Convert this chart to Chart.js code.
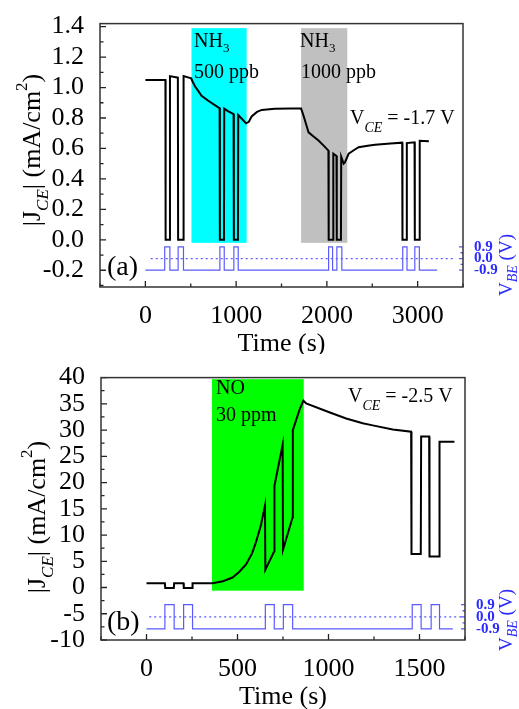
<!DOCTYPE html>
<html lang="en">
<head>
<meta charset="UTF-8" />
<title>J_CE vs time</title>
<script src="https://cdn.jsdelivr.net/npm/chart.js"></script>
<style>
  body { margin: 0; background: #fff; }
  canvas { display: block; }
</style>
</head>
<body>
<canvas id="chartA" width="519" height="354"></canvas>
<canvas id="chartB" width="519" height="355"></canvas>
<script>
// ---- panel (a): NH3, V_CE = -1.7 V ----
const timeA = [0, 221, 223, 268, 271, 358, 361, 418, 421, 505, 520, 545, 582, 619, 693, 803, 818, 821, 866, 869,
  910, 972, 975, 1020, 1023, 1070, 1110, 1140, 1171, 1230, 1282, 1425, 1600, 1716, 1743, 1798, 1860, 1908, 1970, 2017,
  2020, 2068, 2071, 2106, 2109, 2155, 2158, 2185, 2200, 2240, 2300, 2350, 2450, 2530, 2700, 2830, 2833, 2878, 2881, 2966,
  2969, 3020, 3023, 3124];
const jA = [1.05, 1.05, 0, 0, 1.075, 1.065, 0, 0, 1.075, 1.06, 1.04, 1.01, 0.978, 0.946, 0.913, 0.87, 0.865, 0, 0, 0.862,
  0.845, 0.825, 0, 0, 0.82, 0.79, 0.765, 0.775, 0.81, 0.84, 0.853, 0.86, 0.862, 0.862, 0.815, 0.706, 0.675, 0.652, 0.615, 0.586,
  0, 0, 0.565, 0.55, 0, 0, 0.545, 0.50, 0.51, 0.565, 0.59, 0.608, 0.618, 0.625, 0.632, 0.638, 0, 0, 0.635, 0.64,
  0, 0, 0.65, 0.648];
const vbeTimeA = [0, 213, 213, 270, 270, 361, 361, 420, 420, 821, 821, 869, 869, 975, 975, 1023, 1023,
  2019, 2019, 2063, 2063, 2110, 2110, 2165, 2165, 2836, 2836, 2883, 2883, 2969, 2969, 3019, 3019, 3215];
const vbeA = [-0.9, -0.9, 0.9, 0.9, -0.9, -0.9, 0.9, 0.9, -0.9, -0.9, 0.9, 0.9, -0.9, -0.9, 0.9, 0.9, -0.9,
  -0.9, 0.9, 0.9, -0.9, -0.9, 0.9, 0.9, -0.9, -0.9, 0.9, 0.9, -0.9, -0.9, 0.9, 0.9, -0.9, -0.9];
const zeroLineA = [59, 3400];
const bandStartA = [508, 1716];
const bandEndA = [1116, 2225];
const bandLowA = -0.02, bandHighA = 1.39;
const xMajorA = [0, 1000, 2000, 3000];
const xMinorA = [-500, 500, 1500, 2500, 3500];
const yMajorA = [-0.2, 0, 0.2, 0.4, 0.6, 0.8, 1.0, 1.2, 1.4];
const yMinorA = [-0.3, -0.1, 0.1, 0.3, 0.5, 0.7, 0.9, 1.1, 1.3];

// ---- panel (b): NO, V_CE = -2.5 V ----
const timeB = [0, 101, 103, 150, 152, 203, 205, 251, 253, 363, 420, 473, 510, 547, 580, 602, 629, 651, 653, 702,
  703, 748, 750, 803, 804, 840, 862, 877, 1004, 1097, 1188, 1243, 1353, 1454, 1456, 1507, 1509, 1553, 1555, 1608,
  1610, 1692];
const jB = [0.8, 0.8, -0.1, -0.1, 0.8, 0.8, -0.1, -0.1, 0.8, 0.8, 1.2, 1.9, 3.0, 4.4, 6.5, 8.7, 11.9, 15.6, 3.4, 6.9,
  19.4, 27.2, 7.2, 13.4, 30.0, 33.8, 35.6, 35.1, 33.4, 32.2, 31.3, 30.9, 30.1, 29.7, 6.4, 6.4, 28.8, 28.8, 5.9, 5.9,
  27.8, 27.8];
const vbeTimeB = [0, 101, 101, 152, 152, 204, 204, 253, 253, 653, 653, 702, 702, 752, 752, 803, 803,
  1460, 1460, 1509, 1509, 1564, 1564, 1610, 1610, 1683];
const vbeB = [-0.9, -0.9, 0.9, 0.9, -0.9, -0.9, 0.9, 0.9, -0.9, -0.9, 0.9, 0.9, -0.9, -0.9, 0.9, 0.9, -0.9,
  -0.9, 0.9, 0.9, -0.9, -0.9, 0.9, 0.9, -0.9, -0.9];
const zeroLineB = [15, 1735];
const bandStartB = [360];
const bandEndB = [864];
const bandLowB = -0.6, bandHighB = 39.7;
const xMajorB = [0, 500, 1000, 1500];
const xMinorB = [-250, 250, 750, 1250, 1750];
const yMajorB = [-10, -5, 0, 5, 10, 15, 20, 25, 30, 35, 40];
const yMinorB = [-7.5, -2.5, 2.5, 7.5, 12.5, 17.5, 22.5, 27.5, 32.5, 37.5];

const vbeTicks = [-0.9, 0, 0.9];
const vbeMinor = [-0.45, 0.45];

const SERIF = '"Liberation Serif", "Times New Roman", serif';
const BLUE = '#5a5aff';
const BLUE_TEXT = '#2b2bff';

function pts(xs, ys) {
  return xs.map((x, i) => ({ x: x, y: ys[i] }));
}

// draw a run of text pieces (for sub/superscripts)
function drawParts(ctx, parts, x, y, align) {
  let total = 0;
  parts.forEach((p) => {
    ctx.font = p.font;
    p.w = ctx.measureText(p.text).width;
    total += p.w;
  });
  let cx = align === "center" ? x - total / 2 : x;
  parts.forEach((p) => {
    ctx.font = p.font;
    ctx.fillText(p.text, cx, y + (p.dy || 0));
    cx += p.w;
  });
}

function f(size, style) {
  return (style ? style + " " : "") + size + "px " + SERIF;
}

function makePanel(id, p) {
  const decor = {
    id: "decor" + id,
    beforeDatasetsDraw(chart) {
      const ctx = chart.ctx, x = chart.scales.x, y = chart.scales.y;
      ctx.save();
      p.bandStart.forEach((s, i) => {
        const x0 = x.getPixelForValue(s), x1 = x.getPixelForValue(p.bandEnd[i]);
        const y0 = y.getPixelForValue(p.bandHigh), y1 = y.getPixelForValue(p.bandLow);
        ctx.fillStyle = p.bandColors[i];
        ctx.fillRect(x0, y0, x1 - x0, y1 - y0);
      });
      ctx.restore();
    },
    afterDraw(chart) {
      const ctx = chart.ctx;
      const { left, right, top, bottom } = chart.chartArea;
      const x = chart.scales.x, y = chart.scales.y, y2 = chart.scales.y2;
      ctx.save();
      // inward tick marks
      ctx.strokeStyle = "#222";
      ctx.lineWidth = 1.3;
      ctx.beginPath();
      p.xMajor.forEach((v) => { const px = x.getPixelForValue(v); ctx.moveTo(px, bottom); ctx.lineTo(px, bottom - 6); });
      p.xMinor.forEach((v) => { const px = x.getPixelForValue(v); ctx.moveTo(px, bottom); ctx.lineTo(px, bottom - 3.5); });
      p.yMajor.forEach((v) => { const py = y.getPixelForValue(v); ctx.moveTo(left, py); ctx.lineTo(left + 6, py); });
      p.yMinor.forEach((v) => { const py = y.getPixelForValue(v); ctx.moveTo(left, py); ctx.lineTo(left + 3.5, py); });
      ctx.stroke();
      ctx.strokeStyle = BLUE;
      ctx.beginPath();
      vbeTicks.forEach((v) => { const py = y2.getPixelForValue(v); ctx.moveTo(right, py); ctx.lineTo(right - 4, py); });
      vbeMinor.forEach((v) => { const py = y2.getPixelForValue(v); ctx.moveTo(right, py); ctx.lineTo(right - 2.5, py); });
      ctx.stroke();
      // frame
      ctx.strokeStyle = "#333";
      ctx.lineWidth = 1.5;
      ctx.strokeRect(left, top, right - left, bottom - top);

      ctx.fillStyle = "#000";
      ctx.textBaseline = "alphabetic";
      ctx.textAlign = "left";
      p.texts(ctx);

      // axis titles
      drawParts(ctx, [{ text: "Time (s)", font: f(26) }], (left + right) / 2 + 0, p.xTitleY, "center");

      ctx.save();
      ctx.translate(p.yTitleX, p.yTitleY);
      ctx.rotate(-Math.PI / 2);
      drawParts(ctx, [
        { text: "|J", font: f(26) },
        { text: "CE", font: f(17, "italic"), dy: 8 },
        { text: "| (mA/cm", font: f(26) },
        { text: "2", font: f(17), dy: -13 },
        { text: ")", font: f(26) },
      ], 0, 0, "center");
      ctx.restore();

      ctx.save();
      ctx.fillStyle = BLUE_TEXT;
      ctx.translate(p.y2TitleX, p.y2TitleY);
      ctx.rotate(-Math.PI / 2);
      drawParts(ctx, [
        { text: "V", font: f(19) },
        { text: "BE", font: f(14, "italic"), dy: 5 },
        { text: " (V)", font: f(19) },
      ], 0, 0, "center");
      ctx.restore();
      ctx.restore();
    },
  };

  return new Chart(document.getElementById(id), {
    type: "line",
    data: {
      datasets: [
        { data: pts(p.time, p.j), yAxisID: "y", borderColor: "#000", borderWidth: 2, pointRadius: 0, tension: 0 },
        { data: pts(p.vbeTime, p.vbe), yAxisID: "y2", borderColor: BLUE, borderWidth: 1.2, pointRadius: 0, tension: 0 },
        { data: pts(p.zeroLine, [0, 0]), yAxisID: "y2", borderColor: BLUE, borderWidth: 1.2, borderDash: [2, 3], pointRadius: 0 },
      ],
    },
    options: {
      responsive: false,
      animation: false,
      devicePixelRatio: 1,
      layout: { padding: { top: p.padTop, left: 0, right: 0, bottom: 0 } },
      plugins: { legend: { display: false }, tooltip: { enabled: false } },
      scales: {
        x: {
          type: "linear", min: p.xMin, max: p.xMax,
          grid: { display: false }, border: { display: false },
          afterBuildTicks: (s) => { s.ticks = p.xMajor.map((v) => ({ value: v })); },
          afterFit: (s) => { s.height = p.xHeight; },
          ticks: { font: { family: SERIF, size: 26 }, color: "#000", padding: 6, maxRotation: 0, autoSkip: false, callback: (v) => String(v) },
        },
        y: {
          type: "linear", position: "left", min: p.yMin, max: p.yMax,
          grid: { display: false }, border: { display: false },
          afterBuildTicks: (s) => { s.ticks = p.yMajor.map((v) => ({ value: v })); },
          afterFit: (s) => { s.width = p.yWidth; },
          ticks: { font: { family: SERIF, size: 26 }, color: "#000", padding: 8, autoSkip: false, callback: p.yFmt },
        },
        y2: {
          type: "linear", position: "right", min: p.y2Min, max: p.y2Max,
          grid: { display: false }, border: { display: false },
          afterBuildTicks: (s) => { s.ticks = vbeTicks.map((v) => ({ value: v })); },
          afterFit: (s) => { s.width = p.y2Width; },
          ticks: { font: { family: SERIF, size: 15, weight: "bold", lineHeight: 1 }, color: BLUE_TEXT, padding: 3, autoSkip: false, callback: (v) => v.toFixed(1) },
        },
      },
    },
    plugins: [decor],
  });
}

makePanel("chartA", {
  time: timeA, j: jA, vbeTime: vbeTimeA, vbe: vbeA, zeroLine: zeroLineA,
  bandStart: bandStartA, bandEnd: bandEndA, bandLow: bandLowA, bandHigh: bandHighA, bandColors: ["#00ffff", "#c0c0c0"],
  xMajor: xMajorA, xMinor: xMinorA, yMajor: yMajorA, yMinor: yMinorA,
  xMin: -500, xMax: 3500, yMin: -0.31, yMax: 1.42, y2Min: -2.21, y2Max: 18.24,
  padTop: 22, yWidth: 100, y2Width: 56, xHeight: 67,
  yFmt: (v) => v.toFixed(1),
  xTitleY: 351, yTitleX: 40, yTitleY: 150, y2TitleX: 512, y2TitleY: 265,
  texts(ctx) {
    drawParts(ctx, [{ text: "NH", font: f(20) }, { text: "3", font: f(13), dy: 5 }], 194, 47, "left");
    drawParts(ctx, [{ text: "500 ppb", font: f(20) }], 194, 78, "left");
    drawParts(ctx, [{ text: "NH", font: f(20) }, { text: "3", font: f(13), dy: 5 }], 300, 47, "left");
    drawParts(ctx, [{ text: "1000 ppb", font: f(20) }], 301, 78, "left");
    drawParts(ctx, [{ text: "V", font: f(20) }, { text: "CE", font: f(14, "italic"), dy: 8 }, { text: " = -1.7 V", font: f(20) }], 350, 124, "left");
    drawParts(ctx, [{ text: "(a)", font: f(28) }], 107, 275, "left");
  },
});

makePanel("chartB", {
  time: timeB, j: jB, vbeTime: vbeTimeB, vbe: vbeB, zeroLine: zeroLineB,
  bandStart: bandStartB, bandEnd: bandEndB, bandLow: bandLowB, bandHigh: bandHighB, bandColors: ["#00ff00"],
  xMajor: xMajorB, xMinor: xMinorB, yMajor: yMajorB, yMinor: yMinorB,
  xMin: -250, xMax: 1750, yMin: -10, yMax: 40, y2Min: -1.72, y2Max: 17.74,
  padTop: 19, yWidth: 101, y2Width: 54, xHeight: 69,
  yFmt: (v) => String(v),
  xTitleY: 350, yTitleX: 45, yTitleY: 163, y2TitleX: 512, y2TitleY: 266,
  texts(ctx) {
    drawParts(ctx, [{ text: "NO", font: f(20) }], 216, 40, "left");
    drawParts(ctx, [{ text: "30 ppm", font: f(20) }], 216, 67, "left");
    drawParts(ctx, [{ text: "V", font: f(20) }, { text: "CE", font: f(14, "italic"), dy: 8 }, { text: " = -2.5 V", font: f(20) }], 348, 48, "left");
    drawParts(ctx, [{ text: "(b)", font: f(28) }], 107, 276, "left");
  },
});
</script>
</body>
</html>
